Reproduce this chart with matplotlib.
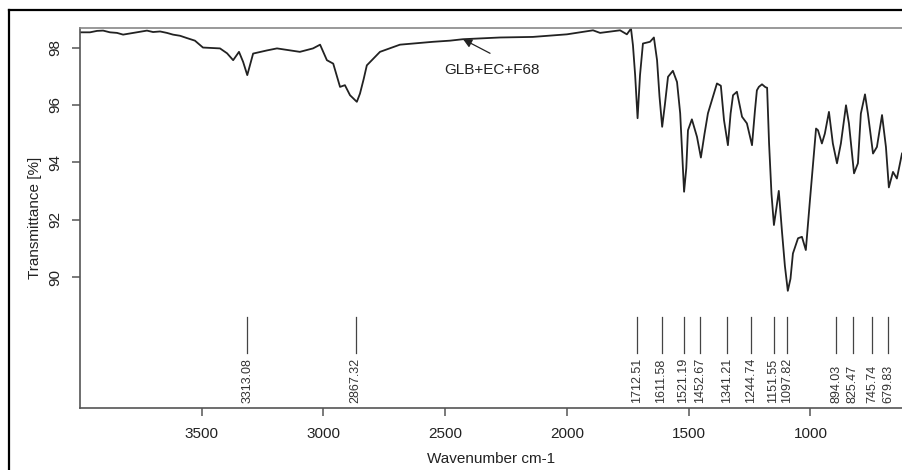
import matplotlib.pyplot as plt
from matplotlib.lines import Line2D

plt.rcParams["font.family"] = ["Liberation Sans", "DejaVu Sans"]

# spectrum (wavenumber cm-1, transmittance %)
wavenumber = [4000, 3959, 3930, 3905, 3877, 3848, 3823, 3795, 3766, 3725, 3700, 3671,
              3643, 3618, 3589, 3561, 3528, 3495, 3425, 3396, 3371, 3347, 3330,
              3313, 3300, 3289, 3232, 3191, 3097, 3043, 3014, 2986, 2960, 2932, 2912,
              2891, 2863, 2850, 2835, 2822, 2768, 2686, 2550, 2480, 2427, 2275, 2140,
              2000, 1893, 1864, 1782, 1754, 1737, 1729, 1720, 1710, 1700, 1688, 1659,
              1643, 1630, 1620, 1609, 1598, 1585, 1565, 1548, 1535, 1519, 1510, 1503,
              1487, 1466, 1450, 1435, 1421, 1384, 1368, 1355, 1339, 1328, 1318, 1302,
              1281, 1261, 1240, 1228, 1220, 1212, 1199, 1185, 1178, 1170, 1160, 1150,
              1140, 1130, 1117, 1105, 1093, 1082, 1072, 1051, 1035, 1019, 1002, 977,
              969, 953, 941, 924, 908, 891, 875, 854, 842, 821, 805, 793, 776, 764,
              743, 727, 706, 690, 678, 661, 645, 624]
transmittance = [98.53, 98.53, 98.58, 98.59, 98.53, 98.51, 98.45, 98.49, 98.53, 98.59, 98.54, 98.56,
                 98.51, 98.45, 98.41, 98.33, 98.24, 98.00, 97.97, 97.80, 97.56, 97.85, 97.50,
                 97.04, 97.45, 97.79, 97.90, 97.97, 97.85, 97.97, 98.10, 97.56, 97.44, 96.63, 96.69,
                 96.34, 96.11, 96.40, 96.90, 97.38, 97.85, 98.10, 98.20, 98.24, 98.29, 98.35, 98.37,
                 98.46, 98.60, 98.51, 98.60, 98.46, 98.66, 98.08, 97.04, 95.54, 97.04, 98.14, 98.20,
                 98.35, 97.56, 96.30, 95.24, 96.00, 96.98, 97.19, 96.80, 95.71, 92.98, 93.80, 95.12,
                 95.50, 94.89, 94.17, 95.00, 95.71, 96.75, 96.67, 95.47, 94.60, 95.70, 96.34, 96.46,
                 95.59, 95.36, 94.60, 95.80, 96.51, 96.63, 96.72, 96.62, 96.60, 94.67, 92.90, 91.82,
                 92.40, 93.01, 91.60, 90.40, 89.53, 89.95, 90.83, 91.36, 91.41, 90.95, 92.69, 95.18,
                 95.12, 94.66, 95.00, 95.76, 94.66, 93.97, 94.66, 95.99, 95.36, 93.62, 93.97, 95.70,
                 96.37, 95.70, 94.31, 94.54, 95.65, 94.54, 93.13, 93.67, 93.44, 94.31]

peaks = [3313.08, 2867.32, 1712.51, 1611.58, 1521.19, 1452.67, 1341.21,
         1244.74, 1151.55, 1097.82, 894.03, 825.47, 745.74, 679.83]

x_ticks = [3500, 3000, 2500, 2000, 1500, 1000]
y_ticks = [90, 92, 94, 96, 98]

fig = plt.figure(figsize=(9.02, 4.70), dpi=100)
ax = fig.add_axes([80 / 902, 1 - 408 / 470, 1 - 80 / 902, (408 - 28.3) / 470])

ax.plot(wavenumber, transmittance, color="#222222", lw=1.3)

for p in peaks:
    ax.plot([p, p], [87.36, 88.63], color="#444444", lw=0.9)
    ax.text(p, 85.63, f"{p:.2f}", rotation=90, ha="center", va="bottom",
            fontsize=9, color="#333333")

# label with arrow pointing at the curve
ax.annotate("", xy=(2427, 98.29), xytext=(2316, 97.8),
            arrowprops=dict(arrowstyle="-|>", color="#222222", lw=0.9,
                            mutation_scale=13, shrinkA=0, shrinkB=0))
ax.text(2306, 97.21, "GLB+EC+F68", ha="center", va="center",
        fontsize=11, color="#222222")

ax.set_xlim(4000, 624)
ax.set_ylim(85.45, 98.67)
ax.set_xticks(x_ticks)
ax.set_yticks(y_ticks)

ax.spines["right"].set_visible(False)
ax.spines["top"].set_color("#888888")
ax.spines["top"].set_linewidth(1.2)
for s in ["left", "bottom"]:
    ax.spines[s].set_color("#555555")
    ax.spines[s].set_linewidth(1.2)

ax.tick_params(direction="out", length=6, width=1.1, color="#555555",
               labelsize=11, labelcolor="#222222")
ax.tick_params(axis="x", pad=8)
ax.tick_params(axis="y", labelrotation=90, pad=7)
for lab in ax.get_yticklabels():
    lab.set_va("center")

ax.set_xlabel("Wavenumber cm-1", fontsize=11, color="#222222")
ax.set_ylabel("Transmittance [%]", fontsize=11, color="#222222")
ax.xaxis.set_label_coords(0.5, -0.115)
ax.yaxis.set_label_coords(-0.046, 0.5)

# outer frame of the screenshot
fig.add_artist(Line2D([9 / 902, 1], [1 - 10 / 470, 1 - 10 / 470], color="black", lw=1.6))
fig.add_artist(Line2D([9 / 902, 9 / 902], [0, 1 - 10 / 470], color="black", lw=1.6))

fig.savefig("out.png", dpi=100)
